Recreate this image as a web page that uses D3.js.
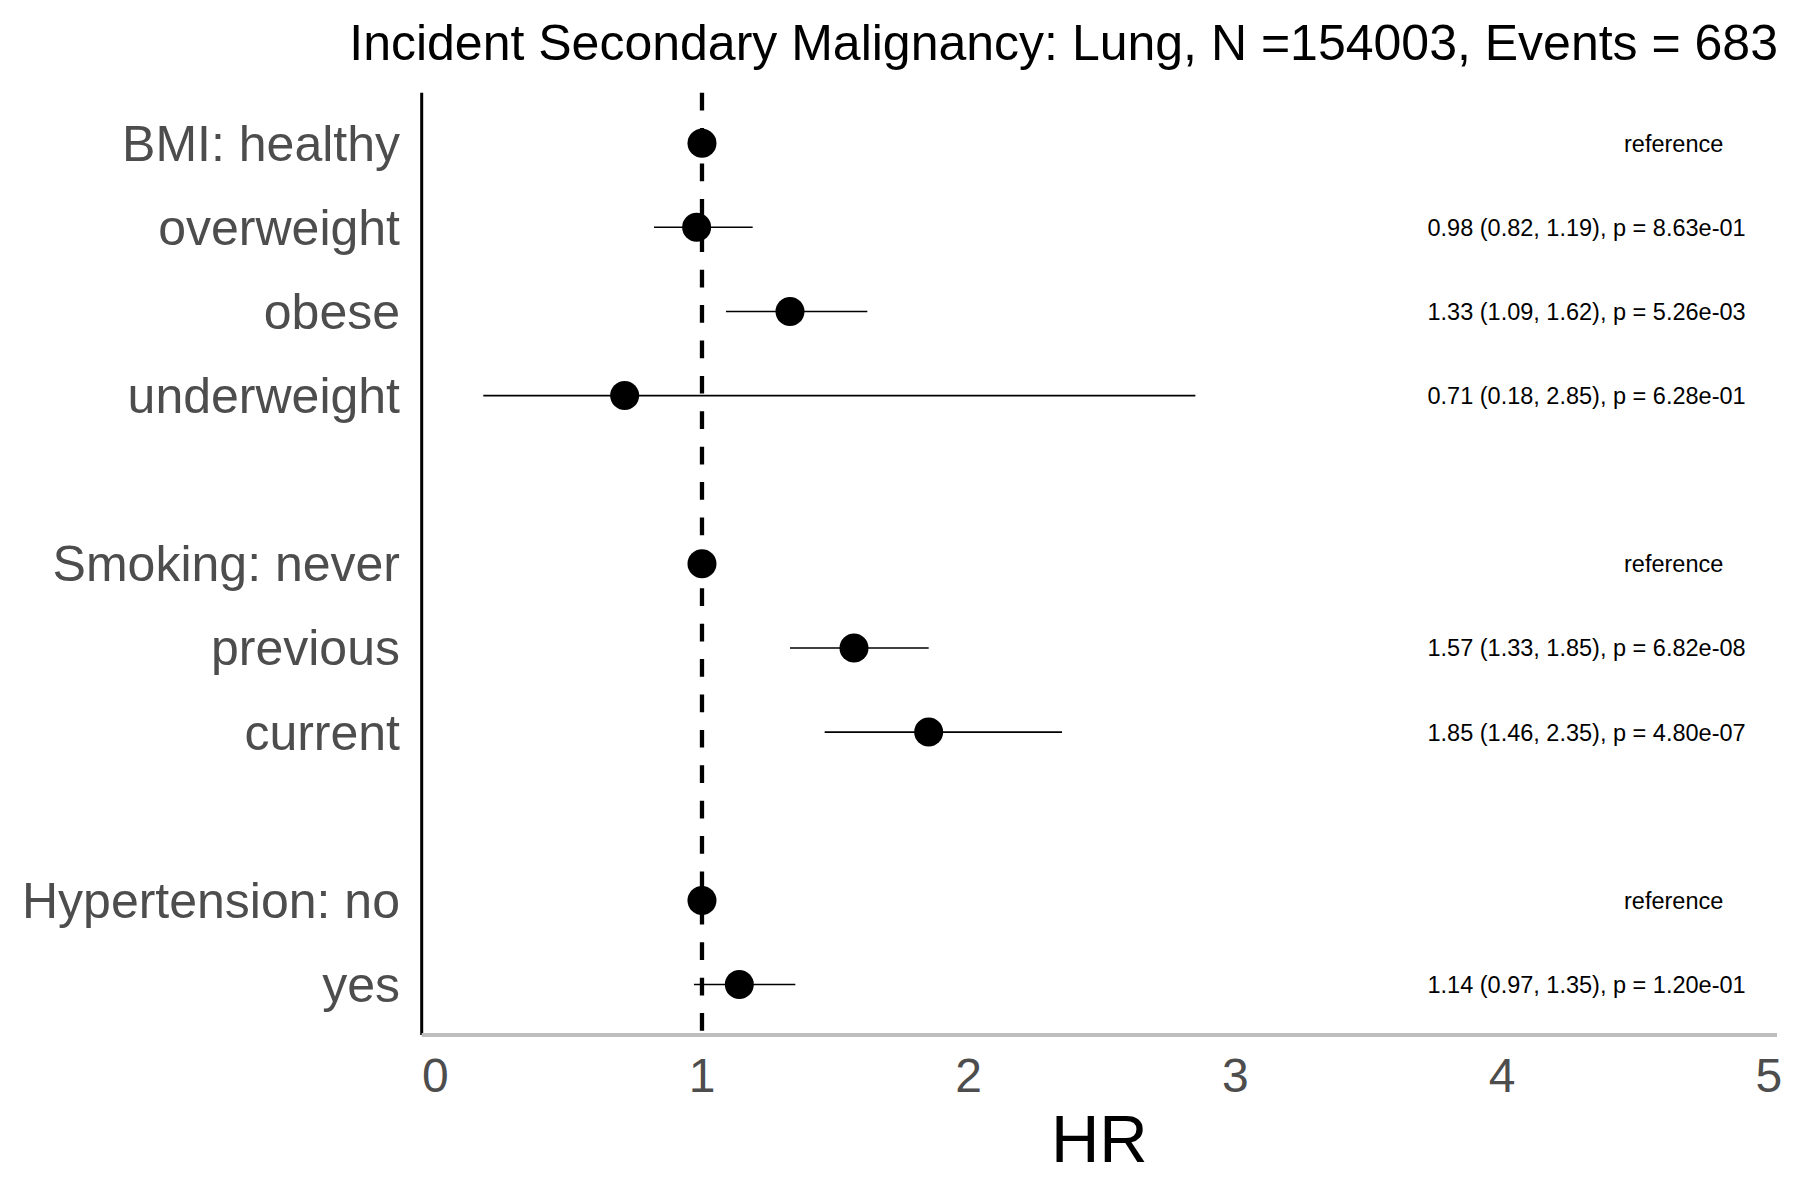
<!DOCTYPE html>
<html>
<head>
<meta charset="utf-8">
<script src="https://cdn.jsdelivr.net/npm/d3@7"></script>
<style>
  html, body { margin: 0; padding: 0; background: #fff; }
  svg { display: block; font-family: "Liberation Sans", Arial, Helvetica, sans-serif; }
</style>
</head>
<body>
<svg id="chart" width="1800" height="1200"></svg>
<script>
// Forest plot: hazard ratios with 95% CI, one row per level (blank rows between groups)
const rowLabels = ["BMI: healthy", "overweight", "obese", "underweight", "",
                   "Smoking: never", "previous", "current", "",
                   "Hypertension: no", "yes"];
const hr      = [1, 0.98, 1.33, 0.71, null, 1, 1.57, 1.85, null, 1, 1.14];
const lower   = [null, 0.82, 1.09, 0.18, null, null, 1.33, 1.46, null, null, 0.97];
const upper   = [null, 1.19, 1.62, 2.85, null, null, 1.85, 2.35, null, null, 1.35];
const pValues = [null, "8.63e-01", "5.26e-03", "6.28e-01", null, null,
                 "6.82e-08", "4.80e-07", null, null, "1.20e-01"];
const xTicks = [0, 1, 2, 3, 4, 5];
const labelX = 4.8;   // where the estimate text sits, in HR units
const titleText = "Incident Secondary Malignancy: Lung, N =154003, Events = 683";

const rows = rowLabels.map((label, i) => ({
  key: "r" + i, label, hr: hr[i], lo: lower[i], hi: upper[i], p: pValues[i]
}));

const svg = d3.select("#chart");
const plot = { left: 421.7, right: 1777, top: 92.7, bottom: 1035 };

// continuous x with ggplot-style 5% expansion
const xMin = d3.min(lower.filter(v => v != null));
const span = labelX - xMin;
const x = d3.scaleLinear()
  .domain([xMin - 0.05 * span, labelX + 0.05 * span])
  .range([plot.left, plot.right]);

const y = d3.scalePoint()
  .domain(rows.map(d => d.key))
  .range([plot.top, plot.bottom])
  .padding(0.6);

// reference line at HR = 1
svg.append("line")
  .attr("x1", x(1)).attr("x2", x(1))
  .attr("y1", plot.top).attr("y2", plot.bottom)
  .attr("stroke", "#000")
  .attr("stroke-width", 4.3)
  .attr("stroke-dasharray", "17.7,17.7");

// axis lines
svg.append("line")
  .attr("x1", plot.left).attr("x2", plot.left)
  .attr("y1", plot.top).attr("y2", plot.bottom)
  .attr("stroke", "#000")
  .attr("stroke-width", 3);

svg.append("line")
  .attr("x1", plot.left).attr("x2", plot.right)
  .attr("y1", plot.bottom).attr("y2", plot.bottom)
  .attr("stroke", "#bebebe")
  .attr("stroke-width", 4);

// y labels
svg.append("g")
  .selectAll("text")
  .data(rows.filter(d => d.label))
  .enter()
  .append("text")
  .attr("x", 400)
  .attr("y", d => y(d.key) + 17.5)
  .attr("text-anchor", "end")
  .attr("fill", "#4d4d4d")
  .attr("font-size", "50px")
  .text(d => d.label);

// x tick labels
svg.append("g")
  .selectAll("text")
  .data(xTicks)
  .enter()
  .append("text")
  .attr("x", d => x(d))
  .attr("y", 1092)
  .attr("text-anchor", "middle")
  .attr("fill", "#4d4d4d")
  .attr("font-size", "48px")
  .text(d => d);

// confidence intervals
svg.append("g")
  .selectAll("line")
  .data(rows.filter(d => d.lo != null))
  .enter()
  .append("line")
  .attr("x1", d => x(d.lo))
  .attr("x2", d => x(d.hi))
  .attr("y1", d => y(d.key))
  .attr("y2", d => y(d.key))
  .attr("stroke", "#000")
  .attr("stroke-width", 1.6);

// point estimates
svg.append("g")
  .selectAll("circle")
  .data(rows.filter(d => d.hr != null))
  .enter()
  .append("circle")
  .attr("cx", d => x(d.hr))
  .attr("cy", d => y(d.key))
  .attr("r", 14.5)
  .attr("fill", "#000");

// estimate text
svg.append("g")
  .selectAll("text")
  .data(rows.filter(d => d.hr != null))
  .enter()
  .append("text")
  .attr("y", d => y(d.key) + 8.4)
  .attr("fill", "#000")
  .attr("font-size", "23.5px")
  .text(d => d.lo == null
    ? "reference"
    : `${d.hr.toFixed(2)} (${d.lo.toFixed(2)}, ${d.hi.toFixed(2)}), p = ${d.p}`)
  .attr("x", function(d) {
    const h = d.lo == null ? 0.92 : 0.905;
    return x(labelX) - h * this.getComputedTextLength();
  });

// title and axis title
svg.append("text")
  .attr("x", 1778)
  .attr("y", 60)
  .attr("text-anchor", "end")
  .attr("fill", "#000")
  .attr("font-size", "50px")
  .text(titleText);

svg.append("text")
  .attr("x", (plot.left + plot.right) / 2)
  .attr("y", 1162)
  .attr("text-anchor", "middle")
  .attr("fill", "#000")
  .attr("font-size", "67px")
  .text("HR");
</script>
</body>
</html>
